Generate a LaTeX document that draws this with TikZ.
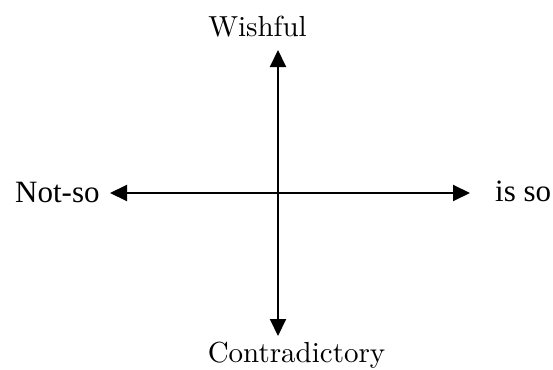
\documentclass[tikz,border=0pt]{standalone}
\usepackage{fontspec}
\newfontfamily\timesfont{Liberation Serif}
\newfontfamily\lmfont[Extension=.otf]{lmroman10-regular}
\usetikzlibrary{arrows.meta}
\tikzset{
  axis/.style={line width=2pt, {Triangle[length=17pt,width=16pt]}-{Triangle[length=17pt,width=16pt]}},
  lmlabel/.style={inner sep=0pt, anchor=base, font=\lmfont\fontsize{29}{34}\selectfont},
  tmlabel/.style={inner sep=0pt, anchor=base west, font=\timesfont\fontsize{31}{36}\selectfont}
}
\begin{document}
\begin{tikzpicture}[x=1pt,y=-1pt]
\useasboundingbox (0,0) rectangle (553,369);
\coordinate (l) at (110,193);
\coordinate (r) at (470,193);
\coordinate (t) at (278,50);
\coordinate (b) at (278,336);
\draw[axis] (l) -- (r);
\draw[axis] (t) -- (b);
\node[lmlabel] (wish) at (257.5,37) {Wishful};
\node[lmlabel] (contra) at (296.5,362) {Contradictory};
\node[tmlabel] (notso) at (15,202) {Not-so};
\node[tmlabel] (isso) at (495,201) {is so};
\end{tikzpicture}
\end{document}
